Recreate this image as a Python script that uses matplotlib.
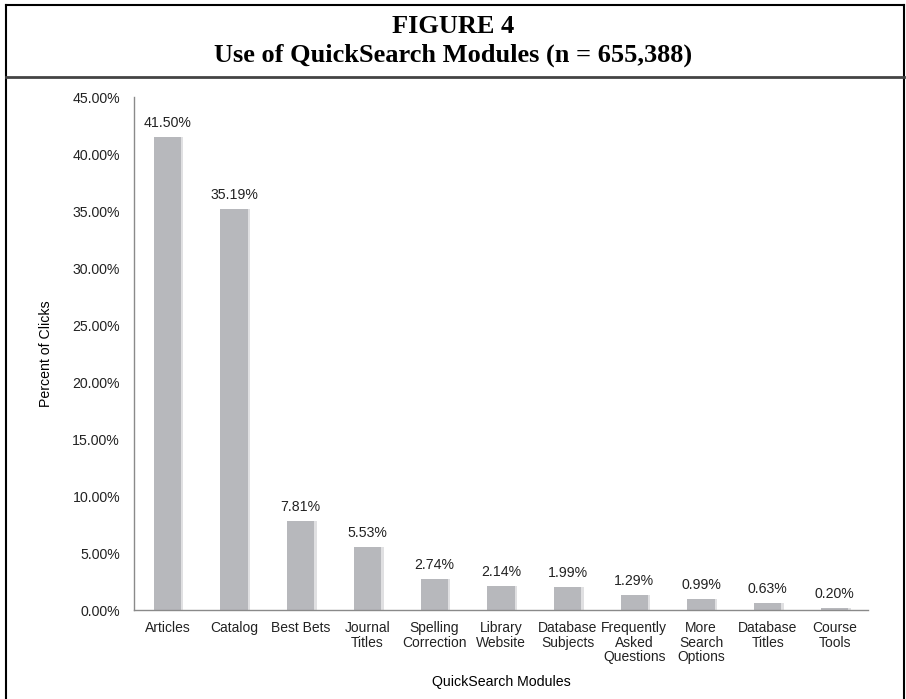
import matplotlib.pyplot as plt
from matplotlib.lines import Line2D

modules = ['Articles', 'Catalog', 'Best Bets', 'Journal\nTitles', 'Spelling\nCorrection',
           'Library\nWebsite', 'Database\nSubjects', 'Frequently\nAsked\nQuestions',
           'More\nSearch\nOptions', 'Database\nTitles', 'Course\nTools']
percents = [41.50, 35.19, 7.81, 5.53, 2.74, 2.14, 1.99, 1.29, 0.99, 0.63, 0.20]
yticks = [0, 5, 10, 15, 20, 25, 30, 35, 40, 45]

plt.rcParams['font.family'] = ['Liberation Sans', 'DejaVu Sans']

fig = plt.figure(figsize=(9.06, 6.99), dpi=100)
ax = fig.add_axes([0.1479, 0.1273, 0.810, 0.7339])

x = list(range(len(modules)))
# soft shadow to the right of each bar
ax.bar([i + 0.03 for i in x], percents, width=0.42, color='#e0e0e2', zorder=1)
ax.bar(x, percents, width=0.41, color='#b7b8bc', zorder=2)

for i, v in enumerate(percents):
    ax.annotate(f'{v:.2f}%', (i, v), xytext=(0, 5), textcoords='offset points',
                ha='center', va='bottom', fontsize=10.2, color='#222222')

ax.set_xlim(-0.5, len(modules) - 0.5)
ax.set_ylim(0, 45)
ax.set_yticks(yticks)
ax.set_yticklabels([f'{t:.2f}%' for t in yticks], fontsize=10.2)
ax.set_xticks(x)
ax.set_xticklabels(modules, fontsize=10, linespacing=1.05)
ax.tick_params(axis='both', length=0, colors='#222222')
ax.tick_params(axis='y', pad=10)
ax.tick_params(axis='x', pad=8)

for s in ['top', 'right']:
    ax.spines[s].set_visible(False)
for s in ['left', 'bottom']:
    ax.spines[s].set_color('#8a8a8a')
    ax.spines[s].set_linewidth(1.0)

ax.set_ylabel('Percent of Clicks', fontsize=10.2, labelpad=14)
ax.set_xlabel('QuickSearch Modules', fontsize=10.2, labelpad=8)

# outer frame (bottom edge runs off the image) and title band
frame = dict(transform=fig.transFigure, color='black', linewidth=1.5)
fig.lines.append(Line2D([0.0066, 0.0066], [0.0, 0.9928], **frame))
fig.lines.append(Line2D([0.9978, 0.9978], [0.0, 0.9928], **frame))
fig.lines.append(Line2D([0.0066, 0.9978], [0.9928, 0.9928], **frame))
fig.lines.append(Line2D([0.0066, 0.9978], [0.8898, 0.8898], transform=fig.transFigure,
                        color='#444444', linewidth=2.0))
fig.text(0.5, 0.9528, 'FIGURE 4', ha='center', va='baseline', fontsize=19,
         fontweight='bold', family='Liberation Serif')
fig.text(0.5, 0.9113, 'Use of QuickSearch Modules (n = 655,388)', ha='center', va='baseline',
         fontsize=19, fontweight='bold', family='Liberation Serif')

fig.savefig('out.png', dpi=100)
